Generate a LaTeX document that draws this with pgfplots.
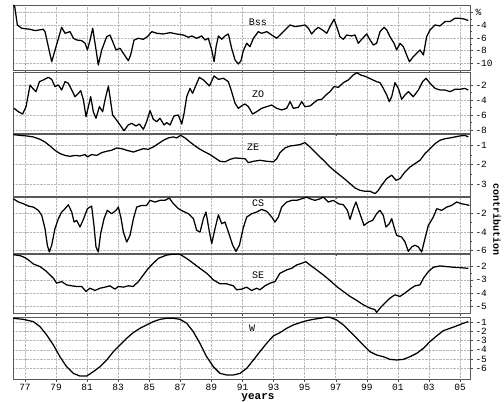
\documentclass[border=0pt]{standalone}
\usepackage{pgfplots}
\pgfplotsset{compat=1.18}
\usepackage{fontspec}
\setmainfont{Liberation Mono}
\begin{document}
\begin{tikzpicture}
\pgfplotsset{
  panel/.style={
    scale only axis, width=457pt, anchor=north west,
    xmin=1976.23, xmax=2005.64,
    xtick={1977,1979,...,2005},
    xticklabels={},
    ytick pos=right, yticklabel pos=right,
    xtick pos=bottom,
    tick align=outside,
    major tick length=3pt, minor tick length=1.8pt,
    minor y tick num=1,
    grid=major,
    grid style={densely dotted, gray!55, line width=0.5pt},
    axis line style={line width=0.6pt, black!65},
    tick style={black!70, line width=0.4pt},
    /pgf/number format/assume math mode=true,
    ticklabel style={font=\fontsize{9.5}{10}\selectfont},
    yticklabel style={xshift=-1pt},
    xticklabel style={yshift=1.5pt},
    cycle list={{black, no markers}},
    every axis plot/.append style={line width=1.25pt, line join=round},
  },
}
\path[use as bounding box] (0pt,0pt) rectangle (504pt,402pt);

% Panel 1: Bss
\begin{axis}[panel, at={(13pt,397pt)}, height=65pt, ymin=-11.05, ymax=-0.8,
  ytick={-2,-4,-6,-8,-10}, yticklabels={\%,-4,-6,-8,-10}]
\addplot coordinates {
(1976.25,-0.8)(1976.34,-1.05)(1976.51,-3.95)(1976.79,-4.47)(1977.33,-4.63)(1977.65,-4.84)(1978.18,-4.63)(1978.29,-5.0)(1978.72,-9.74)(1979.36,-4.32)(1979.58,-5.26)(1979.90,-5.0)(1980.12,-6.05)(1980.33,-6.32)(1980.65,-6.42)(1980.87,-6.84)(1981.02,-7.89)(1981.19,-6.32)(1981.36,-4.47)(1981.51,-6.84)(1981.72,-10.26)(1981.94,-7.89)(1982.26,-5.79)(1982.47,-5.53)(1982.69,-6.84)(1982.86,-7.89)(1983.12,-7.63)(1983.33,-8.42)(1983.65,-9.58)(1983.80,-8.68)(1984.02,-6.32)(1984.30,-6.05)(1984.62,-6.21)(1984.88,-5.79)(1985.16,-5.0)(1985.48,-5.26)(1985.91,-5.37)(1986.34,-5.16)(1986.76,-5.37)(1987.19,-5.53)(1987.52,-5.89)(1987.73,-5.68)(1988.05,-6.05)(1988.37,-5.68)(1988.59,-6.32)(1988.80,-6.05)(1989.02,-7.89)(1989.17,-9.74)(1989.30,-7.37)(1989.45,-5.68)(1989.66,-6.21)(1989.87,-5.68)(1990.09,-5.37)(1990.30,-7.63)(1990.52,-9.47)(1990.73,-10.1)(1990.90,-9.6)(1991.05,-8.0)(1991.27,-6.84)(1991.48,-7.37)(1991.70,-6.05)(1992.02,-5.0)(1992.23,-5.26)(1992.56,-5.0)(1992.88,-5.53)(1993.20,-6.05)(1993.52,-5.26)(1993.84,-4.47)(1994.06,-3.95)(1994.38,-4.21)(1994.70,-4.1)(1995.02,-3.95)(1995.24,-4.47)(1995.45,-5.37)(1995.67,-4.74)(1995.88,-4.32)(1996.20,-4.84)(1996.42,-5.26)(1996.63,-4.21)(1996.89,-3.05)(1997.06,-4.21)(1997.27,-5.79)(1997.49,-6.21)(1997.70,-5.53)(1998.02,-5.68)(1998.24,-5.53)(1998.45,-6.84)(1998.67,-6.21)(1998.99,-5.37)(1999.21,-6.32)(1999.42,-7.11)(1999.63,-6.84)(1999.85,-5.0)(2000.11,-4.32)(2000.28,-4.74)(2000.49,-5.79)(2000.75,-6.84)(2000.92,-7.89)(2001.14,-6.84)(2001.35,-7.37)(2001.56,-8.68)(2001.74,-9.74)(2001.99,-8.95)(2002.21,-8.42)(2002.42,-7.89)(2002.64,-8.68)(2002.85,-5.79)(2003.07,-4.74)(2003.39,-3.95)(2003.71,-4.1)(2004.03,-3.42)(2004.35,-3.42)(2004.67,-2.89)(2004.99,-2.89)(2005.32,-3.05)(2005.53,-3.26)
};
\end{axis}

% Panel 2: ZO
\begin{axis}[panel, at={(13pt,330pt)}, height=61pt, ymin=-8.4, ymax=-0.27,
  ytick={-2,-4,-6,-8}]
\addplot coordinates {
(1976.30,-5.11)(1976.57,-5.56)(1976.85,-5.87)(1977.07,-4.89)(1977.33,-2.0)(1977.50,-2.45)(1977.71,-2.89)(1977.93,-1.56)(1978.18,-1.33)(1978.50,-0.98)(1978.72,-1.25)(1978.93,-2.22)(1979.15,-2.0)(1979.36,-2.67)(1979.58,-1.56)(1979.79,-1.78)(1980.01,-2.67)(1980.22,-3.56)(1980.44,-3.11)(1980.59,-2.76)(1980.76,-4.0)(1980.93,-6.22)(1981.08,-4.89)(1981.23,-3.56)(1981.40,-5.56)(1981.57,-6.44)(1981.79,-4.89)(1982.00,-5.56)(1982.15,-4.0)(1982.37,-2.13)(1982.47,-3.56)(1982.64,-6.0)(1982.86,-6.58)(1983.12,-7.33)(1983.37,-8.09)(1983.65,-7.33)(1983.87,-7.11)(1984.15,-7.47)(1984.36,-7.2)(1984.62,-7.91)(1984.83,-6.89)(1985.05,-5.42)(1985.26,-6.58)(1985.48,-6.89)(1985.69,-6.44)(1985.95,-7.33)(1986.12,-7.02)(1986.34,-7.33)(1986.59,-6.13)(1986.87,-6.0)(1987.09,-7.2)(1987.24,-5.78)(1987.41,-3.56)(1987.62,-2.45)(1987.79,-3.11)(1988.01,-2.0)(1988.22,-0.98)(1988.48,-1.33)(1988.87,-2.13)(1989.17,-0.80)(1989.45,-1.25)(1989.77,-1.11)(1990.09,-1.56)(1990.30,-2.89)(1990.52,-4.44)(1990.73,-5.11)(1991.00,-4.7)(1991.16,-4.53)(1991.38,-4.89)(1991.65,-5.87)(1991.91,-5.56)(1992.23,-5.11)(1992.56,-4.89)(1992.88,-4.67)(1993.20,-5.11)(1993.52,-5.33)(1993.84,-5.11)(1994.06,-4.22)(1994.27,-5.11)(1994.59,-4.98)(1994.81,-4.22)(1995.02,-4.89)(1995.34,-4.8)(1995.56,-4.44)(1995.82,-4.0)(1996.10,-3.91)(1996.37,-3.33)(1996.63,-2.89)(1996.89,-2.22)(1997.17,-2.31)(1997.49,-1.69)(1997.81,-1.33)(1998.13,-0.67)(1998.35,-0.36)(1998.60,-0.67)(1998.95,-0.89)(1999.31,-1.25)(1999.63,-1.56)(1999.85,-1.69)(2000.06,-2.45)(2000.28,-3.33)(2000.45,-4.22)(2000.60,-3.56)(2000.81,-1.69)(2001.03,-2.45)(2001.24,-3.91)(2001.46,-3.33)(2001.67,-2.89)(2001.99,-3.56)(2002.32,-2.67)(2002.59,-1.56)(2002.81,-1.11)(2003.07,-1.78)(2003.39,-2.45)(2003.71,-2.67)(2004.03,-2.67)(2004.35,-2.89)(2004.67,-2.58)(2004.99,-2.58)(2005.32,-2.45)(2005.53,-2.67)
};
\end{axis}

% Panel 3: ZE
\begin{axis}[panel, at={(13pt,268pt)}, height=62pt, ymin=-3.6, ymax=-0.44,
  ytick={-1,-2,-3}]
\addplot coordinates {
(1976.25,-0.47)(1976.68,-0.51)(1977.11,-0.54)(1977.54,-0.59)(1977.97,-0.71)(1978.29,-0.85)(1978.61,-1.05)(1978.93,-1.27)(1979.26,-1.44)(1979.58,-1.53)(1979.90,-1.58)(1980.22,-1.53)(1980.54,-1.56)(1980.87,-1.49)(1981.02,-1.61)(1981.29,-1.49)(1981.62,-1.53)(1981.94,-1.39)(1982.26,-1.32)(1982.58,-1.27)(1982.90,-1.15)(1983.23,-1.19)(1983.55,-1.27)(1983.98,-1.36)(1984.30,-1.27)(1984.62,-1.19)(1984.94,-1.22)(1985.26,-1.10)(1985.59,-0.93)(1985.91,-0.76)(1986.23,-0.64)(1986.55,-0.59)(1986.76,-0.64)(1987.02,-0.51)(1987.30,-0.64)(1987.62,-0.85)(1987.95,-1.05)(1988.27,-1.22)(1988.59,-1.36)(1988.91,-1.49)(1989.23,-1.66)(1989.55,-1.83)(1989.87,-1.86)(1990.20,-1.73)(1990.52,-1.66)(1990.84,-1.68)(1991.16,-1.70)(1991.38,-1.90)(1991.70,-1.83)(1992.13,-1.78)(1992.56,-1.83)(1992.99,-1.86)(1993.20,-1.70)(1993.41,-1.39)(1993.74,-1.15)(1994.06,-1.05)(1994.38,-1.02)(1994.70,-0.98)(1995.02,-0.88)(1995.34,-1.10)(1995.67,-1.36)(1995.99,-1.61)(1996.31,-1.86)(1996.63,-2.12)(1996.95,-2.34)(1997.27,-2.54)(1997.60,-2.75)(1997.92,-2.97)(1998.24,-3.19)(1998.56,-3.31)(1998.88,-3.36)(1999.21,-3.36)(1999.53,-3.48)(1999.74,-3.31)(1999.96,-3.05)(2000.28,-2.71)(2000.60,-2.54)(2000.88,-2.80)(2001.14,-2.71)(2001.46,-2.37)(2001.78,-2.12)(2002.10,-1.95)(2002.42,-1.78)(2002.74,-1.44)(2003.07,-1.19)(2003.39,-0.93)(2003.71,-0.76)(2004.03,-0.68)(2004.35,-0.64)(2004.67,-0.59)(2004.99,-0.54)(2005.32,-0.51)(2005.53,-0.59)
};
\end{axis}

% Panel 4: CS
\begin{axis}[panel, at={(13pt,205pt)}, height=56pt, ymin=-6.25, ymax=-0.25,
  ytick={-2,-4,-6}]
\addplot coordinates {
(1976.25,-0.44)(1976.58,-0.79)(1976.90,-0.97)(1977.22,-1.22)(1977.54,-1.33)(1977.86,-1.68)(1978.08,-2.22)(1978.29,-3.64)(1978.44,-5.42)(1978.57,-6.14)(1978.72,-5.42)(1978.93,-3.64)(1979.15,-2.57)(1979.36,-1.86)(1979.58,-1.50)(1979.79,-1.08)(1980.01,-1.86)(1980.16,-2.93)(1980.33,-2.75)(1980.54,-3.46)(1980.76,-2.65)(1981.02,-1.50)(1981.29,-1.22)(1981.44,-3.29)(1981.57,-5.60)(1981.72,-6.14)(1981.87,-4.18)(1982.09,-2.57)(1982.30,-1.68)(1982.58,-2.04)(1982.86,-1.68)(1983.01,-1.33)(1983.18,-2.50)(1983.33,-4.0)(1983.55,-5.07)(1983.76,-4.36)(1983.98,-2.57)(1984.19,-1.33)(1984.51,-1.15)(1984.83,-1.15)(1985.05,-0.61)(1985.37,-0.79)(1985.69,-0.61)(1986.01,-0.61)(1986.29,-0.36)(1986.55,-0.97)(1986.87,-1.50)(1987.19,-1.79)(1987.52,-2.04)(1987.84,-2.57)(1988.05,-3.82)(1988.27,-4.0)(1988.48,-2.57)(1988.65,-1.86)(1988.87,-4.0)(1989.02,-5.25)(1989.23,-3.64)(1989.45,-2.15)(1989.66,-3.11)(1989.87,-2.93)(1990.09,-4.0)(1990.37,-5.42)(1990.58,-6.07)(1990.80,-5.42)(1991.05,-3.55)(1991.27,-2.40)(1991.59,-2.04)(1991.91,-1.86)(1992.23,-1.58)(1992.56,-1.79)(1992.88,-2.40)(1993.09,-2.93)(1993.31,-2.40)(1993.52,-1.33)(1993.84,-0.79)(1994.17,-0.61)(1994.49,-0.61)(1994.81,-0.44)(1995.13,-0.26)(1995.34,-0.44)(1995.67,-0.61)(1995.99,-0.44)(1996.20,-0.26)(1996.52,-0.79)(1996.85,-0.61)(1997.17,-0.97)(1997.49,-1.08)(1997.75,-1.68)(1997.92,-2.65)(1998.13,-1.50)(1998.30,-0.79)(1998.52,-1.86)(1998.82,-3.29)(1999.10,-2.93)(1999.38,-2.75)(1999.63,-2.04)(1999.85,-1.68)(2000.06,-2.22)(2000.23,-3.46)(2000.45,-3.11)(2000.60,-2.57)(2000.75,-3.46)(2000.92,-4.36)(2001.24,-4.54)(2001.46,-5.07)(2001.67,-6.07)(2001.89,-5.60)(2002.10,-5.42)(2002.32,-5.60)(2002.53,-6.14)(2002.74,-4.71)(2002.96,-3.29)(2003.28,-2.40)(2003.50,-1.50)(2003.82,-1.68)(2004.14,-1.33)(2004.46,-1.15)(2004.78,-0.79)(2005.10,-0.97)(2005.43,-1.08)(2005.60,-1.15)
};
\end{axis}

% Panel 5: SE
\begin{axis}[panel, at={(13pt,148pt)}, height=59pt, ymin=-5.5, ymax=-1.05,
  ytick={-2,-3,-4,-5}]
\addplot coordinates {
(1976.25,-1.10)(1976.70,-1.18)(1977.00,-1.32)(1977.22,-1.5)(1977.54,-1.8)(1977.97,-2.0)(1978.40,-2.38)(1978.83,-2.88)(1979.04,-3.25)(1979.36,-3.13)(1979.68,-3.38)(1980.01,-3.45)(1980.33,-3.5)(1980.65,-3.5)(1980.93,-3.88)(1981.18,-3.63)(1981.51,-3.8)(1981.83,-3.63)(1982.15,-3.55)(1982.47,-3.45)(1982.79,-3.7)(1983.01,-3.5)(1983.33,-3.55)(1983.65,-3.45)(1983.97,-3.5)(1984.30,-3.13)(1984.62,-2.63)(1984.94,-2.13)(1985.26,-1.75)(1985.58,-1.38)(1986.12,-1.13)(1986.55,-1.06)(1986.98,-1.08)(1987.40,-1.38)(1987.83,-1.75)(1988.26,-2.13)(1988.69,-2.5)(1989.12,-3.0)(1989.55,-3.3)(1989.98,-3.3)(1990.41,-3.45)(1990.62,-3.75)(1990.94,-3.7)(1991.27,-3.55)(1991.59,-3.8)(1991.91,-3.63)(1992.12,-3.75)(1992.45,-3.45)(1992.77,-3.25)(1993.09,-3.13)(1993.41,-2.5)(1993.84,-2.25)(1994.16,-2.13)(1994.48,-1.88)(1994.81,-1.75)(1995.08,-1.63)(1995.34,-1.88)(1995.77,-2.25)(1996.20,-2.63)(1996.63,-3.05)(1997.06,-3.5)(1997.49,-3.88)(1997.92,-4.25)(1998.35,-4.55)(1998.77,-4.88)(1999.20,-5.13)(1999.52,-5.25)(1999.63,-5.45)(1999.85,-5.13)(2000.17,-4.75)(2000.49,-4.38)(2000.81,-4.13)(2001.13,-4.25)(2001.45,-4.0)(2001.78,-3.7)(2002.10,-3.45)(2002.42,-3.38)(2002.64,-2.88)(2002.96,-2.38)(2003.28,-2.05)(2003.71,-1.95)(2004.14,-2.0)(2004.57,-2.05)(2005.00,-2.08)(2005.53,-2.13)
};
\end{axis}

% Panel 6: W
\begin{axis}[panel, at={(13pt,85pt)}, height=62pt, ymin=-7.15, ymax=-0.46,
  ytick={-1,-2,-3,-4,-5,-6}, minor y tick num=0,
  xticklabels={77,79,81,83,85,87,89,91,93,95,97,99,01,03,05}]
\addplot coordinates {
(1976.25,-0.60)(1976.89,-0.71)(1977.54,-0.96)(1977.97,-1.50)(1978.40,-2.40)(1978.83,-3.48)(1979.25,-4.74)(1979.68,-5.82)(1980.11,-6.54)(1980.54,-6.83)(1980.97,-6.83)(1981.40,-6.36)(1981.83,-5.82)(1982.26,-5.10)(1982.69,-4.20)(1983.12,-3.48)(1983.54,-2.76)(1983.97,-2.15)(1984.40,-1.68)(1984.83,-1.32)(1985.26,-0.96)(1985.69,-0.71)(1986.12,-0.60)(1986.55,-0.60)(1986.98,-0.71)(1987.41,-1.14)(1987.83,-2.04)(1988.26,-3.30)(1988.69,-4.74)(1989.12,-5.82)(1989.55,-6.54)(1989.98,-6.72)(1990.41,-6.72)(1990.84,-6.54)(1991.27,-6.0)(1991.70,-5.10)(1992.12,-4.20)(1992.55,-3.30)(1992.98,-2.51)(1993.41,-2.15)(1993.84,-1.68)(1994.27,-1.32)(1994.70,-1.07)(1995.13,-0.86)(1995.56,-0.71)(1995.99,-0.60)(1996.31,-0.50)(1996.63,-0.50)(1997.06,-0.78)(1997.49,-1.32)(1997.92,-2.04)(1998.35,-2.76)(1998.77,-3.48)(1999.20,-4.20)(1999.63,-4.56)(2000.06,-4.74)(2000.49,-5.03)(2000.92,-5.10)(2001.35,-5.03)(2001.78,-4.74)(2002.21,-4.38)(2002.64,-3.84)(2003.06,-3.12)(2003.49,-2.51)(2003.92,-1.94)(2004.35,-1.68)(2004.77,-1.43)(2005.20,-1.14)(2005.53,-0.96)
};
\end{axis}

\begin{scope}[every node/.style={font=\fontsize{10}{12}\selectfont, inner sep=0pt}]
\node at (258pt,380pt) {Bss};
\node at (258pt,308pt) {ZO};
\node at (253pt,255pt) {ZE};
\node at (258pt,199pt) {CS};
\node at (258pt,127pt) {SE};
\node at (252pt,74pt) {W};
\node[font=\bfseries\fontsize{11}{12}\selectfont, anchor=base] at (258pt,2.5pt) {years};
\node[font=\bfseries\fontsize{10}{12}\selectfont, rotate=-90] at (497pt,182pt) {contribution};
\end{scope}
\end{tikzpicture}
\end{document}
